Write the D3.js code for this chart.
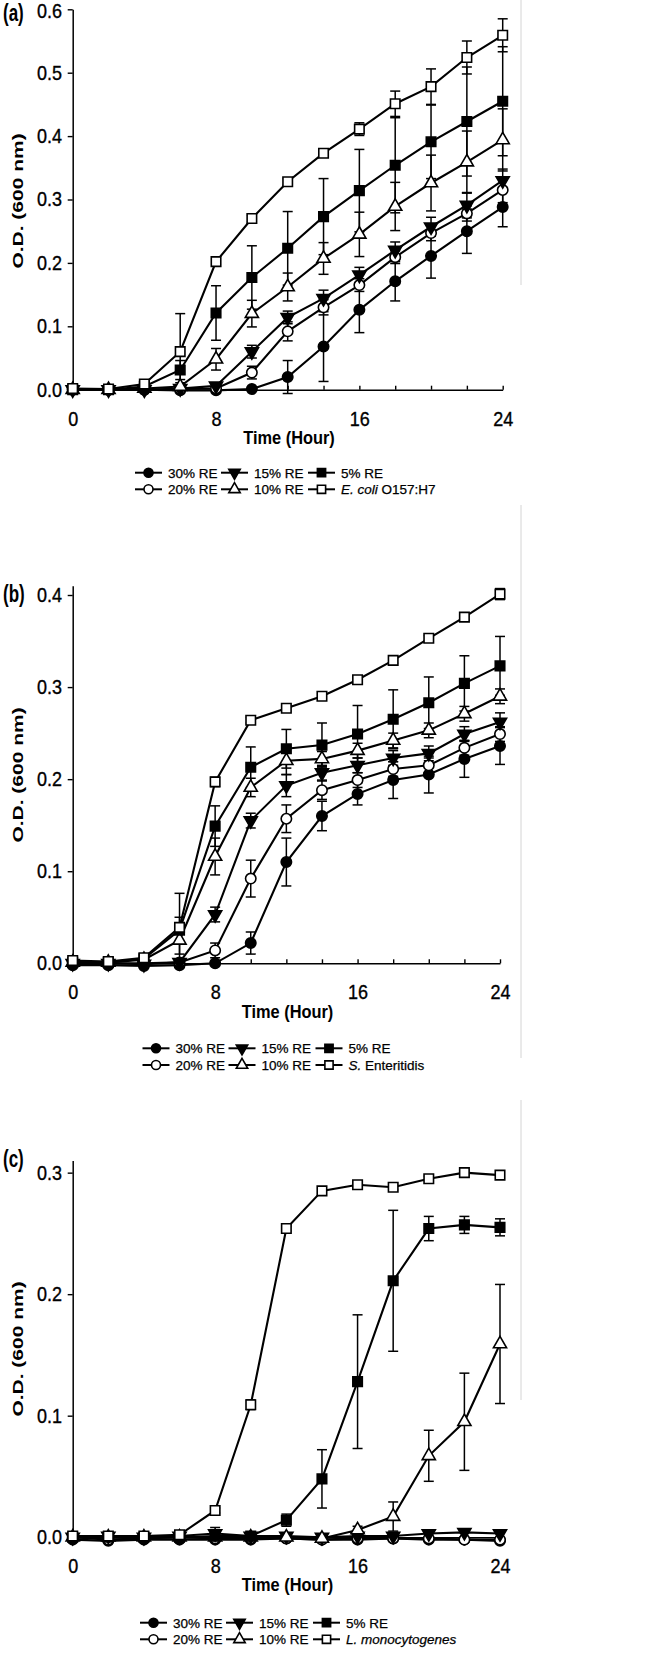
<!DOCTYPE html>
<html lang="en">
<head>
<meta charset="UTF-8" />
<title>Growth curves with RE</title>
<script src="https://cdn.jsdelivr.net/npm/d3@7"></script>
<style>
  body { margin: 0; background: #fff; }
  svg text { font-family: "Liberation Sans", Arial, sans-serif; fill: #000; }
</style>
</head>
<body>
<div id="chart"></div>
<script>
// sampling times (hours) and labelled ticks
var hours = [0, 2, 4, 6, 8, 10, 12, 14, 16, 18, 20, 22, 24];
var majorHours = [0, 8, 16, 24];
var reNames = ["30% RE", "20% RE", "15% RE", "10% RE", "5% RE"];

// (a) E. coli O157:H7
var a30    = [0.000, 0.000, 0.000, -0.001, -0.001, 0.001, 0.020, 0.068, 0.126, 0.171, 0.211, 0.250, 0.288];
var a30sd  = [0, 0, 0, 0, 0, 0.002, 0.026, 0.055, 0.036, 0.031, 0.035, 0.035, 0.031];
var a20    = [0.001, 0.000, 0.000, 0.001, 0.002, 0.027, 0.092, 0.130, 0.165, 0.209, 0.247, 0.278, 0.315];
var a20sd  = [0, 0, 0, 0, 0.002, 0.010, 0.015, 0.012, 0.010, 0.010, 0.012, 0.012, 0.020];
var a15    = [0.000, 0.000, 0.000, 0.002, 0.006, 0.060, 0.114, 0.144, 0.181, 0.220, 0.257, 0.291, 0.330];
var a15sd  = [0, 0, 0, 0.002, 0.004, 0.010, 0.010, 0.013, 0.012, 0.013, 0.015, 0.020, 0.018];
var a10    = [0.000, 0.000, 0.002, 0.005, 0.048, 0.120, 0.162, 0.207, 0.245, 0.289, 0.326, 0.359, 0.394];
var a10sd  = [0, 0, 0.001, 0.006, 0.017, 0.021, 0.022, 0.025, 0.035, 0.038, 0.044, 0.049, 0.049];
var a5     = [0.000, 0.000, 0.005, 0.031, 0.121, 0.177, 0.223, 0.273, 0.314, 0.354, 0.391, 0.423, 0.455];
var a5sd   = [0, 0, 0.002, 0.015, 0.043, 0.050, 0.058, 0.060, 0.065, 0.075, 0.058, 0.086, 0.086];
var aCtl   = [0.002, 0.001, 0.009, 0.060, 0.202, 0.270, 0.328, 0.373, 0.411, 0.451, 0.478, 0.524, 0.559];
var aCtlSd = [0, 0, 0.003, 0.060, 0.005, 0.005, 0.005, 0.006, 0.010, 0.020, 0.028, 0.026, 0.026];

// (b) S. Enteritidis
var b30    = [-0.002, -0.002, -0.003, -0.002, 0.000, 0.022, 0.110, 0.160, 0.184, 0.199, 0.205, 0.222, 0.236];
var b30sd  = [0, 0, 0, 0, 0.002, 0.012, 0.026, 0.016, 0.012, 0.020, 0.020, 0.020, 0.020];
var b20    = [0.001, 0.000, 0.000, 0.001, 0.014, 0.092, 0.157, 0.188, 0.199, 0.211, 0.215, 0.234, 0.249];
var b20sd  = [0, 0, 0, 0.001, 0.008, 0.020, 0.015, 0.010, 0.008, 0.008, 0.008, 0.008, 0.008];
var b15    = [0.000, 0.000, -0.001, 0.001, 0.053, 0.155, 0.193, 0.207, 0.215, 0.223, 0.228, 0.249, 0.262];
var b15sd  = [0, 0, 0, 0.002, 0.008, 0.008, 0.012, 0.008, 0.008, 0.008, 0.008, 0.008, 0.010];
var b10    = [0.001, 0.001, 0.004, 0.025, 0.116, 0.191, 0.220, 0.222, 0.231, 0.242, 0.253, 0.271, 0.290];
var b10sd  = [0, 0, 0.001, 0.015, 0.020, 0.010, 0.015, 0.008, 0.008, 0.008, 0.008, 0.008, 0.008];
var b5     = [0.001, 0.001, 0.005, 0.036, 0.149, 0.213, 0.233, 0.237, 0.249, 0.265, 0.283, 0.304, 0.323];
var b5sd   = [0, 0, 0.001, 0.014, 0.022, 0.022, 0.021, 0.024, 0.031, 0.032, 0.028, 0.030, 0.032];
var bCtl   = [0.003, 0.002, 0.006, 0.039, 0.197, 0.264, 0.277, 0.290, 0.308, 0.329, 0.353, 0.376, 0.401];
var bCtlSd = [0, 0, 0.002, 0.037, 0.005, 0.003, 0.003, 0.003, 0.003, 0.003, 0.003, 0.003, 0.006];

// (c) L. monocytogenes
var c30    = [-0.002, -0.003, -0.002, -0.002, -0.002, -0.002, -0.001, -0.002, -0.002, -0.001, -0.002, -0.002, -0.003];
var c30sd  = [0, 0, 0, 0, 0, 0, 0, 0, 0, 0, 0, 0, 0];
var c20    = [0.000, -0.002, -0.001, 0.000, -0.001, -0.001, -0.001, -0.002, -0.001, -0.001, -0.001, -0.002, -0.002];
var c20sd  = [0, 0, 0, 0, 0, 0, 0, 0, 0, 0, 0, 0, 0];
var c15    = [0.000, 0.001, 0.000, 0.001, 0.003, 0.001, 0.001, 0.000, 0.001, 0.001, 0.003, 0.004, 0.003];
var c15sd  = [0, 0, 0, 0, 0.005, 0, 0, 0, 0, 0, 0, 0, 0];
var c10    = [0.000, 0.000, 0.000, 0.000, 0.000, 0.000, 0.000, -0.001, 0.006, 0.017, 0.067, 0.095, 0.159];
var c10sd  = [0, 0, 0, 0, 0, 0, 0, 0, 0.003, 0.012, 0.021, 0.040, 0.049];
var c5     = [0.000, 0.000, 0.000, 0.000, 0.001, 0.001, 0.014, 0.048, 0.128, 0.211, 0.254, 0.257, 0.255];
var c5sd   = [0, 0, 0, 0, 0, 0, 0.005, 0.024, 0.055, 0.058, 0.010, 0.007, 0.007];
var cCtl   = [0.001, 0.001, 0.001, 0.002, 0.022, 0.109, 0.254, 0.285, 0.290, 0.288, 0.295, 0.300, 0.298];
var cCtlSd = [0, 0, 0, 0, 0.002, 0.004, 0.002, 0.002, 0.002, 0.002, 0.002, 0.002, 0.002];

var aTicks = [0, 0.1, 0.2, 0.3, 0.4, 0.5, 0.6];
var bTicks = [0, 0.1, 0.2, 0.3, 0.4];
var cTicks = [0, 0.1, 0.2, 0.3];

// marker look for 30, 20, 15, 10, 5 % RE and the control
var looks = [
  { shape: d3.symbolCircle,   size: 85, filled: true,  rot: 0 },
  { shape: d3.symbolCircle,   size: 85, filled: false, rot: 0 },
  { shape: d3.symbolTriangle, size: 75, filled: true,  rot: 180 },
  { shape: d3.symbolTriangle, size: 75, filled: false, rot: 0 },
  { shape: d3.symbolSquare,   size: 90, filled: true,  rot: 0 },
  { shape: d3.symbolSquare,   size: 90, filled: false, rot: 0 }
];

var panels = [
  { tag: "(a)", tagY: 21, x0: 72.7, x1: 502.7, y0: 389.7, yTop: 9.3, yMax: 0.6, ticks: aTicks,
    yLabY: 201, timeX: 289, timeY: 443.5, legX: 135, legY: [472.7, 489.3],
    ctl: [{ t: "E. coli", it: true }, { t: " O157:H7", it: false }],
    vals: [a30, a20, a15, a10, a5, aCtl], sds: [a30sd, a20sd, a15sd, a10sd, a5sd, aCtlSd] },
  { tag: "(b)", tagY: 602, x0: 72.7, x1: 500, y0: 963.3, yTop: 585.8, yMax: 0.41, ticks: bTicks,
    yLabY: 775, timeX: 287.5, timeY: 1017.5, legX: 142.5, legY: [1048.3, 1065],
    ctl: [{ t: "S.", it: true }, { t: " Enteritidis", it: false }],
    vals: [b30, b20, b15, b10, b5, bCtl], sds: [b30sd, b20sd, b15sd, b10sd, b5sd, bCtlSd] },
  { tag: "(c)", tagY: 1167, x0: 72.7, x1: 500, y0: 1537.2, yTop: 1160.5, yMax: 0.31, ticks: cTicks,
    yLabY: 1349, timeX: 287.5, timeY: 1591, legX: 140, legY: [1622.7, 1639.3],
    ctl: [{ t: "L. monocytogenes", it: true }],
    vals: [c30, c20, c15, c10, c5, cCtl], sds: [c30sd, c20sd, c15sd, c10sd, c5sd, cCtlSd] }
];

var svg = d3.select("#chart").append("svg")
  .attr("width", 646)
  .attr("height", 1655);

// faint scan edge seen on the right of the original
[[0, 285], [505, 1058], [1100, 1400]].forEach(function(s) {
  svg.append("line").attr("x1", 521).attr("x2", 521).attr("y1", s[0]).attr("y2", s[1])
    .attr("stroke", "#d4d4d4").attr("stroke-width", 1);
});

function marker(sel, look, scale) {
  sel.append("path")
    .attr("d", d3.symbol().type(look.shape).size(look.size * scale))
    .attr("fill", look.filled ? "#000" : "#fff")
    .attr("stroke", "#000")
    .attr("stroke-width", 1.6);
}

panels.forEach(function(p, pi) {
  var x = d3.scaleLinear().domain([0, 24]).range([p.x0, p.x1]);
  var y = d3.scaleLinear().domain([0, p.yMax]).range([p.y0, p.yTop]);
  var g = svg.append("g");

  // y axis
  var ya = g.append("g")
    .attr("transform", "translate(" + p.x0 + ",0)")
    .call(d3.axisLeft(y).tickValues(p.ticks).tickSize(5).tickSizeOuter(0).tickFormat(d3.format(".1f")));
  // x axis, ticks pointing inward
  var xa = g.append("g")
    .attr("transform", "translate(0," + p.y0 + ")")
    .call(d3.axisBottom(x).tickValues(hours).tickSize(-4).tickSizeOuter(0).tickPadding(22)
      .tickFormat(function(d) { return majorHours.indexOf(d) >= 0 ? d : ""; }));

  [ya, xa].forEach(function(a) {
    a.select(".domain").attr("stroke", "#000").attr("stroke-width", 1.5);
    a.selectAll(".tick line").attr("stroke", "#000").attr("stroke-width", 1.4);
    a.selectAll(".tick text").attr("font-size", "20px").attr("fill", "#000")
      .attr("stroke", "#000").attr("stroke-width", 0.35)
      .attr("font-family", "'Liberation Sans', Arial, sans-serif")
      .attr("transform", "scale(0.9,1)");
  });
  ya.selectAll(".tick text").attr("x", -12);
  // keep the top label of (a) inside the page
  if (pi === 0) {
    ya.selectAll(".tick text").filter(function(d) { return d === 0.6; }).attr("dy", "0.42em");
  }

  // axis titles
  g.append("text")
    .attr("transform", "translate(18," + p.yLabY + ") rotate(-90) scale(1,0.72)")
    .attr("text-anchor", "middle")
    .attr("dy", "0.35em")
    .attr("font-size", "21px")
    .attr("font-weight", "bold")
    .text("O.D. (600 nm)");

  g.append("text")
    .attr("transform", "translate(" + p.timeX + "," + p.timeY + ") scale(0.91,1)")
    .attr("text-anchor", "middle")
    .attr("font-size", "18px")
    .attr("font-weight", "bold")
    .text("Time (Hour)");

  g.append("text")
    .attr("transform", "translate(3," + p.tagY + ") scale(0.74,1)")
    .attr("font-size", "23px")
    .attr("font-weight", "bold")
    .text(p.tag);

  var line = d3.line()
    .x(function(d, i) { return x(hours[i]); })
    .y(function(d) { return y(d); });

  // lines
  p.vals.forEach(function(v) {
    g.append("path").datum(v)
      .attr("d", line)
      .attr("fill", "none")
      .attr("stroke", "#000")
      .attr("stroke-width", 2.1);
  });

  // error bars
  p.vals.forEach(function(v, k) {
    var sd = p.sds[k];
    var bars = g.append("g").attr("stroke", "#000").attr("stroke-width", 1.5);
    v.forEach(function(val, i) {
      if (!sd[i]) return;
      var cx = x(hours[i]), top = y(val + sd[i]), bot = y(val - sd[i]);
      bars.append("line").attr("x1", cx).attr("x2", cx).attr("y1", top).attr("y2", bot);
      bars.append("line").attr("x1", cx - 5).attr("x2", cx + 5).attr("y1", top).attr("y2", top);
      bars.append("line").attr("x1", cx - 5).attr("x2", cx + 5).attr("y1", bot).attr("y2", bot);
    });
  });

  // markers
  p.vals.forEach(function(v, k) {
    var look = looks[k];
    g.append("g").selectAll("g")
      .data(v)
      .enter()
      .append("g")
      .attr("transform", function(d, i) {
        return "translate(" + x(hours[i]) + "," + y(d) + ") rotate(" + look.rot + ")";
      })
      .each(function() { marker(d3.select(this), look, 1); });
  });

  // legend: 3 columns x 2 rows
  var names = reNames.concat(["ctl"]);
  var colOff = [0, 86, 173];
  names.forEach(function(nm, k) {
    var col = Math.floor(k / 2), row = k % 2;
    var lx = p.legX + colOff[col], ly = p.legY[row];
    var item = g.append("g");
    item.append("line").attr("x1", lx).attr("x2", lx + 27).attr("y1", ly).attr("y2", ly)
      .attr("stroke", "#000").attr("stroke-width", 2);
    var m = item.append("g").attr("transform", "translate(" + (lx + 13.5) + "," + ly + ") rotate(" + looks[k].rot + ")");
    marker(m, looks[k], 0.75);
    var t = item.append("text").attr("x", lx + 33).attr("y", ly + 5)
      .attr("font-size", "13.5px").attr("stroke", "#000").attr("stroke-width", 0.25);
    if (nm === "ctl") {
      p.ctl.forEach(function(part) {
        t.append("tspan").attr("font-style", part.it ? "italic" : "normal").text(part.t);
      });
    } else {
      t.text(nm);
    }
  });
});
</script>
</body>
</html>
